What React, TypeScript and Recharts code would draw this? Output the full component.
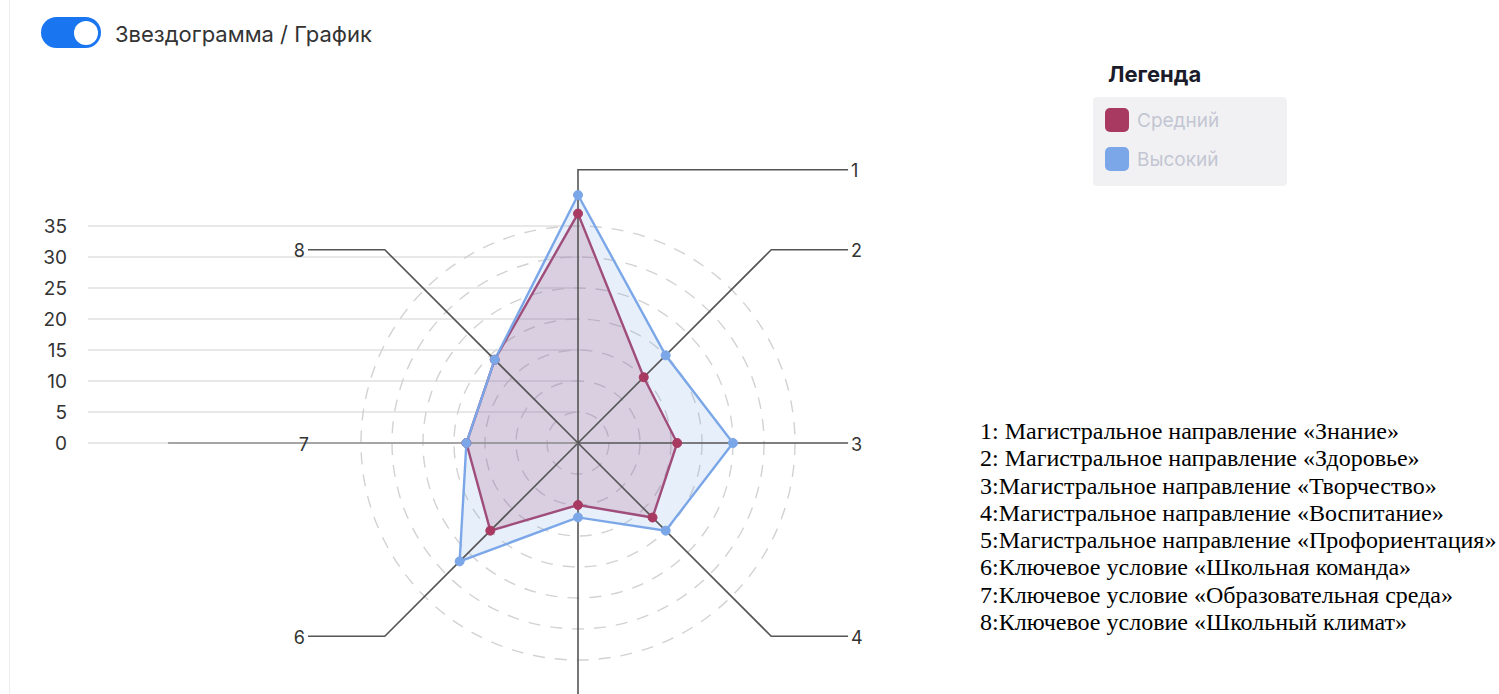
import React from 'react';
import {
  RadarChart, Radar, PolarGrid, PolarAngleAxis, PolarRadiusAxis,
  ComposedChart, XAxis, YAxis, CartesianGrid, Line,
} from 'recharts';

const axes = ['1', '2', '3', '4', '5', '6', '7', '8'];
const medium = [37, 15, 16, 17, 10, 20, 18, 19];
const high = [40, 20, 25, 20, 12, 27, 18, 19];
const seriesNames = ['Средний', 'Высокий'];
const seriesColors = ['#A83A62', '#7BA7E8'];
const yTicks = [0, 5, 10, 15, 20, 25, 30, 35];
const radialTicks = [5, 10, 15, 20, 25, 30, 35];
const radiusMax = 40;
const descriptions = [
  '1: Магистральное направление «Знание»',
  '2: Магистральное направление «Здоровье»',
  '3:Магистральное направление «Творчество»',
  '4:Магистральное направление «Воспитание»',
  '5:Магистральное направление «Профориентация»',
  '6:Ключевое условие «Школьная команда»',
  '7:Ключевое условие «Образовательная среда»',
  '8:Ключевое условие «Школьный климат»',
];

const radarData = axes.map((a, i) => ({ axis: a, medium: medium[i], high: high[i] }));
const gridData = [{ x: 'a', v: yTicks[0] }, { x: 'b', v: yTicks[yTicks.length - 1] }];

const CX = 578;
const CY = 443;
const OUTER = 248;
const CHART_H = 694;
const LABEL_FONT = 'Inter, sans-serif';

const LeaderTick = (props: any) => {
  const { payload, cx, cy } = props;
  const ccx = cx ?? CX;
  const ccy = cy ?? CY;
  const ang = (payload.coordinate * Math.PI) / 180;
  const dx = Math.round(Math.cos(ang) * 1000) / 1000;
  const dy = -Math.round(Math.sin(ang) * 1000) / 1000;
  const bendR = OUTER * 1.102;
  const side = OUTER * 1.089;
  let d: string;
  let lx: number;
  let ly: number;
  let anchor: 'start' | 'end';
  let stroke = '#555';
  if (dy === 0) {
    const far = dx > 0 ? ccx + side : ccx - OUTER * 1.653;
    d = `M${ccx},${ccy} L${far},${ccy}`;
    if (dx < 0) stroke = '#8f8f8f';
    lx = dx > 0 ? ccx + side + 3 : ccx - side + 1;
    ly = ccy;
    anchor = dx > 0 ? 'start' : 'end';
  } else {
    const bx = ccx + dx * bendR;
    const by = ccy + dy * bendR;
    const ex = dx >= 0 ? ccx + side : ccx - side;
    d = `M${ccx},${ccy} L${bx},${by} L${ex},${by}`;
    lx = dx >= 0 ? ex + 3 : ex - 3;
    ly = by;
    anchor = dx >= 0 ? 'start' : 'end';
  }
  return (
    <g>
      <path d={d} stroke={stroke} strokeWidth={1.6} fill="none" />
      {ly < CHART_H - 10 && (
        <text x={lx} y={ly + 1} textAnchor={anchor} dominantBaseline="central" fontSize={18} fill="#333" fontFamily={LABEL_FONT}>
          {payload.value}
        </text>
      )}
    </g>
  );
};

export default function App() {
  return (
    <div style={{ position: 'fixed', left: 0, top: 0, width: 1499, height: 694, background: '#fff', overflow: 'hidden', fontFamily: 'Inter, sans-serif' }}>
      <div style={{ position: 'absolute', left: 9, top: 0, width: 1, height: 694, background: '#ededed' }} />

      {/* toggle */}
      <div style={{ position: 'absolute', left: 41, top: 17, width: 60, height: 31, borderRadius: 16, background: '#1976F0' }}>
        <div style={{ position: 'absolute', left: 33, top: 3.5, width: 24, height: 24, borderRadius: 12, background: '#fff' }} />
      </div>
      <div style={{ position: 'absolute', left: 115, top: 20, fontSize: 22, color: '#333', lineHeight: '28px', whiteSpace: 'nowrap' }}>
        Звездограмма / График
      </div>

      {/* y axis + horizontal grid */}
      <div style={{ position: 'absolute', left: 0, top: 0 }}>
        <ComposedChart width={600} height={460} data={gridData} margin={{ top: 226, right: 20, bottom: 17, left: 0 }}>
          <CartesianGrid vertical={false} stroke="#e8e8e8" strokeWidth={2} />
          <XAxis dataKey="x" hide />
          <YAxis
            width={88}
            domain={[0, 35]}
            ticks={yTicks}
            axisLine={false}
            tickLine={false}
            tickMargin={15}
            tick={{ fontSize: 19, fill: '#333', fontFamily: LABEL_FONT }}
            interval={0}
          />
          <Line dataKey="v" stroke="none" strokeOpacity={0} dot={false} activeDot={false} isAnimationActive={false} />
        </ComposedChart>
      </div>

      {/* radar */}
      <div style={{ position: 'absolute', left: 0, top: 0 }}>
        <RadarChart width={1000} height={CHART_H} data={radarData} cx={CX} cy={CY} outerRadius={OUTER} margin={{ top: 0, right: 0, bottom: 0, left: 0 }}>
          <PolarGrid
            gridType="circle"
            radialLines={false}
            polarRadius={radialTicks.map((t) => (t / radiusMax) * OUTER)}
            stroke="#d2d2d2"
            strokeWidth={1.4}
            strokeDasharray="12 10"
          />
          <PolarAngleAxis dataKey="axis" axisLine={false} tickLine={false} tick={<LeaderTick />} />
          <PolarRadiusAxis domain={[0, radiusMax]} tick={false} axisLine={false} />
          <Radar
            name={seriesNames[0]}
            dataKey="medium"
            stroke={seriesColors[0]}
            strokeWidth={2.4}
            fill={seriesColors[0]}
            fillOpacity={0.2}
            dot={{ r: 4.5, fill: seriesColors[0], stroke: seriesColors[0], strokeWidth: 1, fillOpacity: 1 }}
            isAnimationActive={false}
          />
          <Radar
            name={seriesNames[1]}
            dataKey="high"
            stroke={seriesColors[1]}
            strokeWidth={2.4}
            fill={seriesColors[1]}
            fillOpacity={0.18}
            dot={{ r: 4.5, fill: seriesColors[1], stroke: seriesColors[1], strokeWidth: 1, fillOpacity: 1 }}
            isAnimationActive={false}
          />
        </RadarChart>
      </div>

      {/* legend */}
      <div style={{ position: 'absolute', left: 1108, top: 60, fontSize: 22, fontWeight: 700, color: '#1b1b2a', lineHeight: '28px' }}>Легенда</div>
      <div style={{ position: 'absolute', left: 1093, top: 97, width: 194, height: 89, background: '#f1f1f3', borderRadius: 4 }}>
        {seriesNames.map((n, i) => (
          <div key={n} style={{ position: 'absolute', left: 12, top: 11 + i * 39, height: 24, display: 'flex', alignItems: 'center' }}>
            <div style={{ width: 24, height: 24, borderRadius: 5, background: seriesColors[i] }} />
            <div style={{ marginLeft: 8, fontSize: 19, color: '#c3c6d2' }}>{n}</div>
          </div>
        ))}
      </div>

      {/* descriptions */}
      <div style={{ position: 'absolute', left: 980, top: 418, fontFamily: '"Liberation Serif", "Times New Roman", serif', fontSize: 24, lineHeight: '27.3px', color: '#000', whiteSpace: 'nowrap' }}>
        {descriptions.map((t) => (
          <div key={t}>{t}</div>
        ))}
      </div>
    </div>
  );
}
